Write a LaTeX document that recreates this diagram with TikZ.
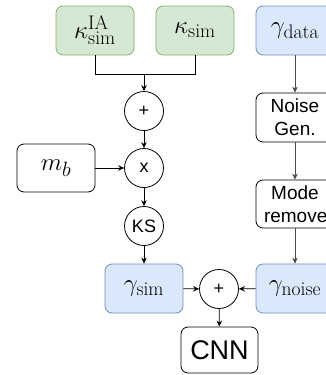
\documentclass[tikz,border=0pt]{standalone}
\usepackage{fontspec}
\setsansfont{Liberation Sans}
\usetikzlibrary{arrows.meta}
\definecolor{gfill}{HTML}{D5E8D4}
\definecolor{gline}{HTML}{82B366}
\definecolor{bfill}{HTML}{DAE8FC}
\definecolor{bline}{HTML}{6C8EBF}
\tikzset{
  box/.style={draw, rounded corners=7pt, minimum width=78pt, minimum height=49pt, inner sep=0pt, line width=0.8pt, font=\sffamily\fontsize{19}{23}\selectfont, align=center},
  gbox/.style={box, fill=gfill, draw=gline},
  bbox/.style={box, fill=bfill, draw=bline},
  mathtxt/.style={font=\fontsize{28}{32}\selectfont},
  circ/.style={draw, circle, minimum size=39pt, inner sep=0pt, line width=0.8pt, font=\sffamily\fontsize{18}{20}\selectfont},
  arr/.style={-{Stealth[length=6pt,width=5.5pt]}, line width=0.8pt},
  conn/.style={line width=0.8pt},
  garr/.style={arr, draw=black!70}
}
\begin{document}
\begin{tikzpicture}[x=1pt,y=-1pt]
\useasboundingbox (0,0) rectangle (326,375);
\clip (0,0) rectangle (326,375);
\node[gbox, mathtxt] (kia) at (95,30.5) {$\kappa^{\mathrm{IA}}_{\mathrm{sim}}$};
\node[gbox, mathtxt] (ks) at (195,30.5) {$\kappa_{\mathrm{sim}}$};
\node[bbox, mathtxt] (gd) at (295,30.5) {$\gamma_{\mathrm{data}}$};
\coordinate (j) at (144,74);
\node[circ] (p1) at (144,111) {+};
\node[circ] (tm) at (144,168) {x};
\node[box, mathtxt, minimum height=48pt] (mb) at (56,168) {$m_b$};
\node[circ] (kso) at (144,226) {KS};
\node[bbox, mathtxt] (gs) at (144,288.5) {$\gamma_{\mathrm{sim}}$};
\node[circ] (p2) at (219,289) {+};
\node[bbox, mathtxt] (gn) at (295,288.5) {$\gamma_{\mathrm{noise}}$};
\node[box, minimum width=77pt, minimum height=46pt, font=\sffamily\fontsize{27}{30}\selectfont] (cnn) at (219.5,350) {CNN};
\node[box] (ng) at (295,117.5) {Noise\\Gen.};
\node[box, minimum height=48pt] (mr) at (295,204) {Mode\\\makebox[62pt][l]{remove}};
\draw[conn] (kia.south) |- (j);
\draw[conn] (ks.south) |- (j);
\draw[arr] (j) -- (p1);
\draw[arr] (p1) -- (tm);
\draw[arr] (mb) -- (tm);
\draw[arr] (tm) -- (kso);
\draw[arr] (kso) -- (gs);
\draw[arr] (gs) -- (p2);
\draw[arr] (gn) -- (p2);
\draw[arr] (p2) -- (cnn);
\draw[garr] (gd) -- (ng);
\draw[garr] (ng) -- (mr);
\draw[garr] (mr) -- (gn);
\end{tikzpicture}
\end{document}
